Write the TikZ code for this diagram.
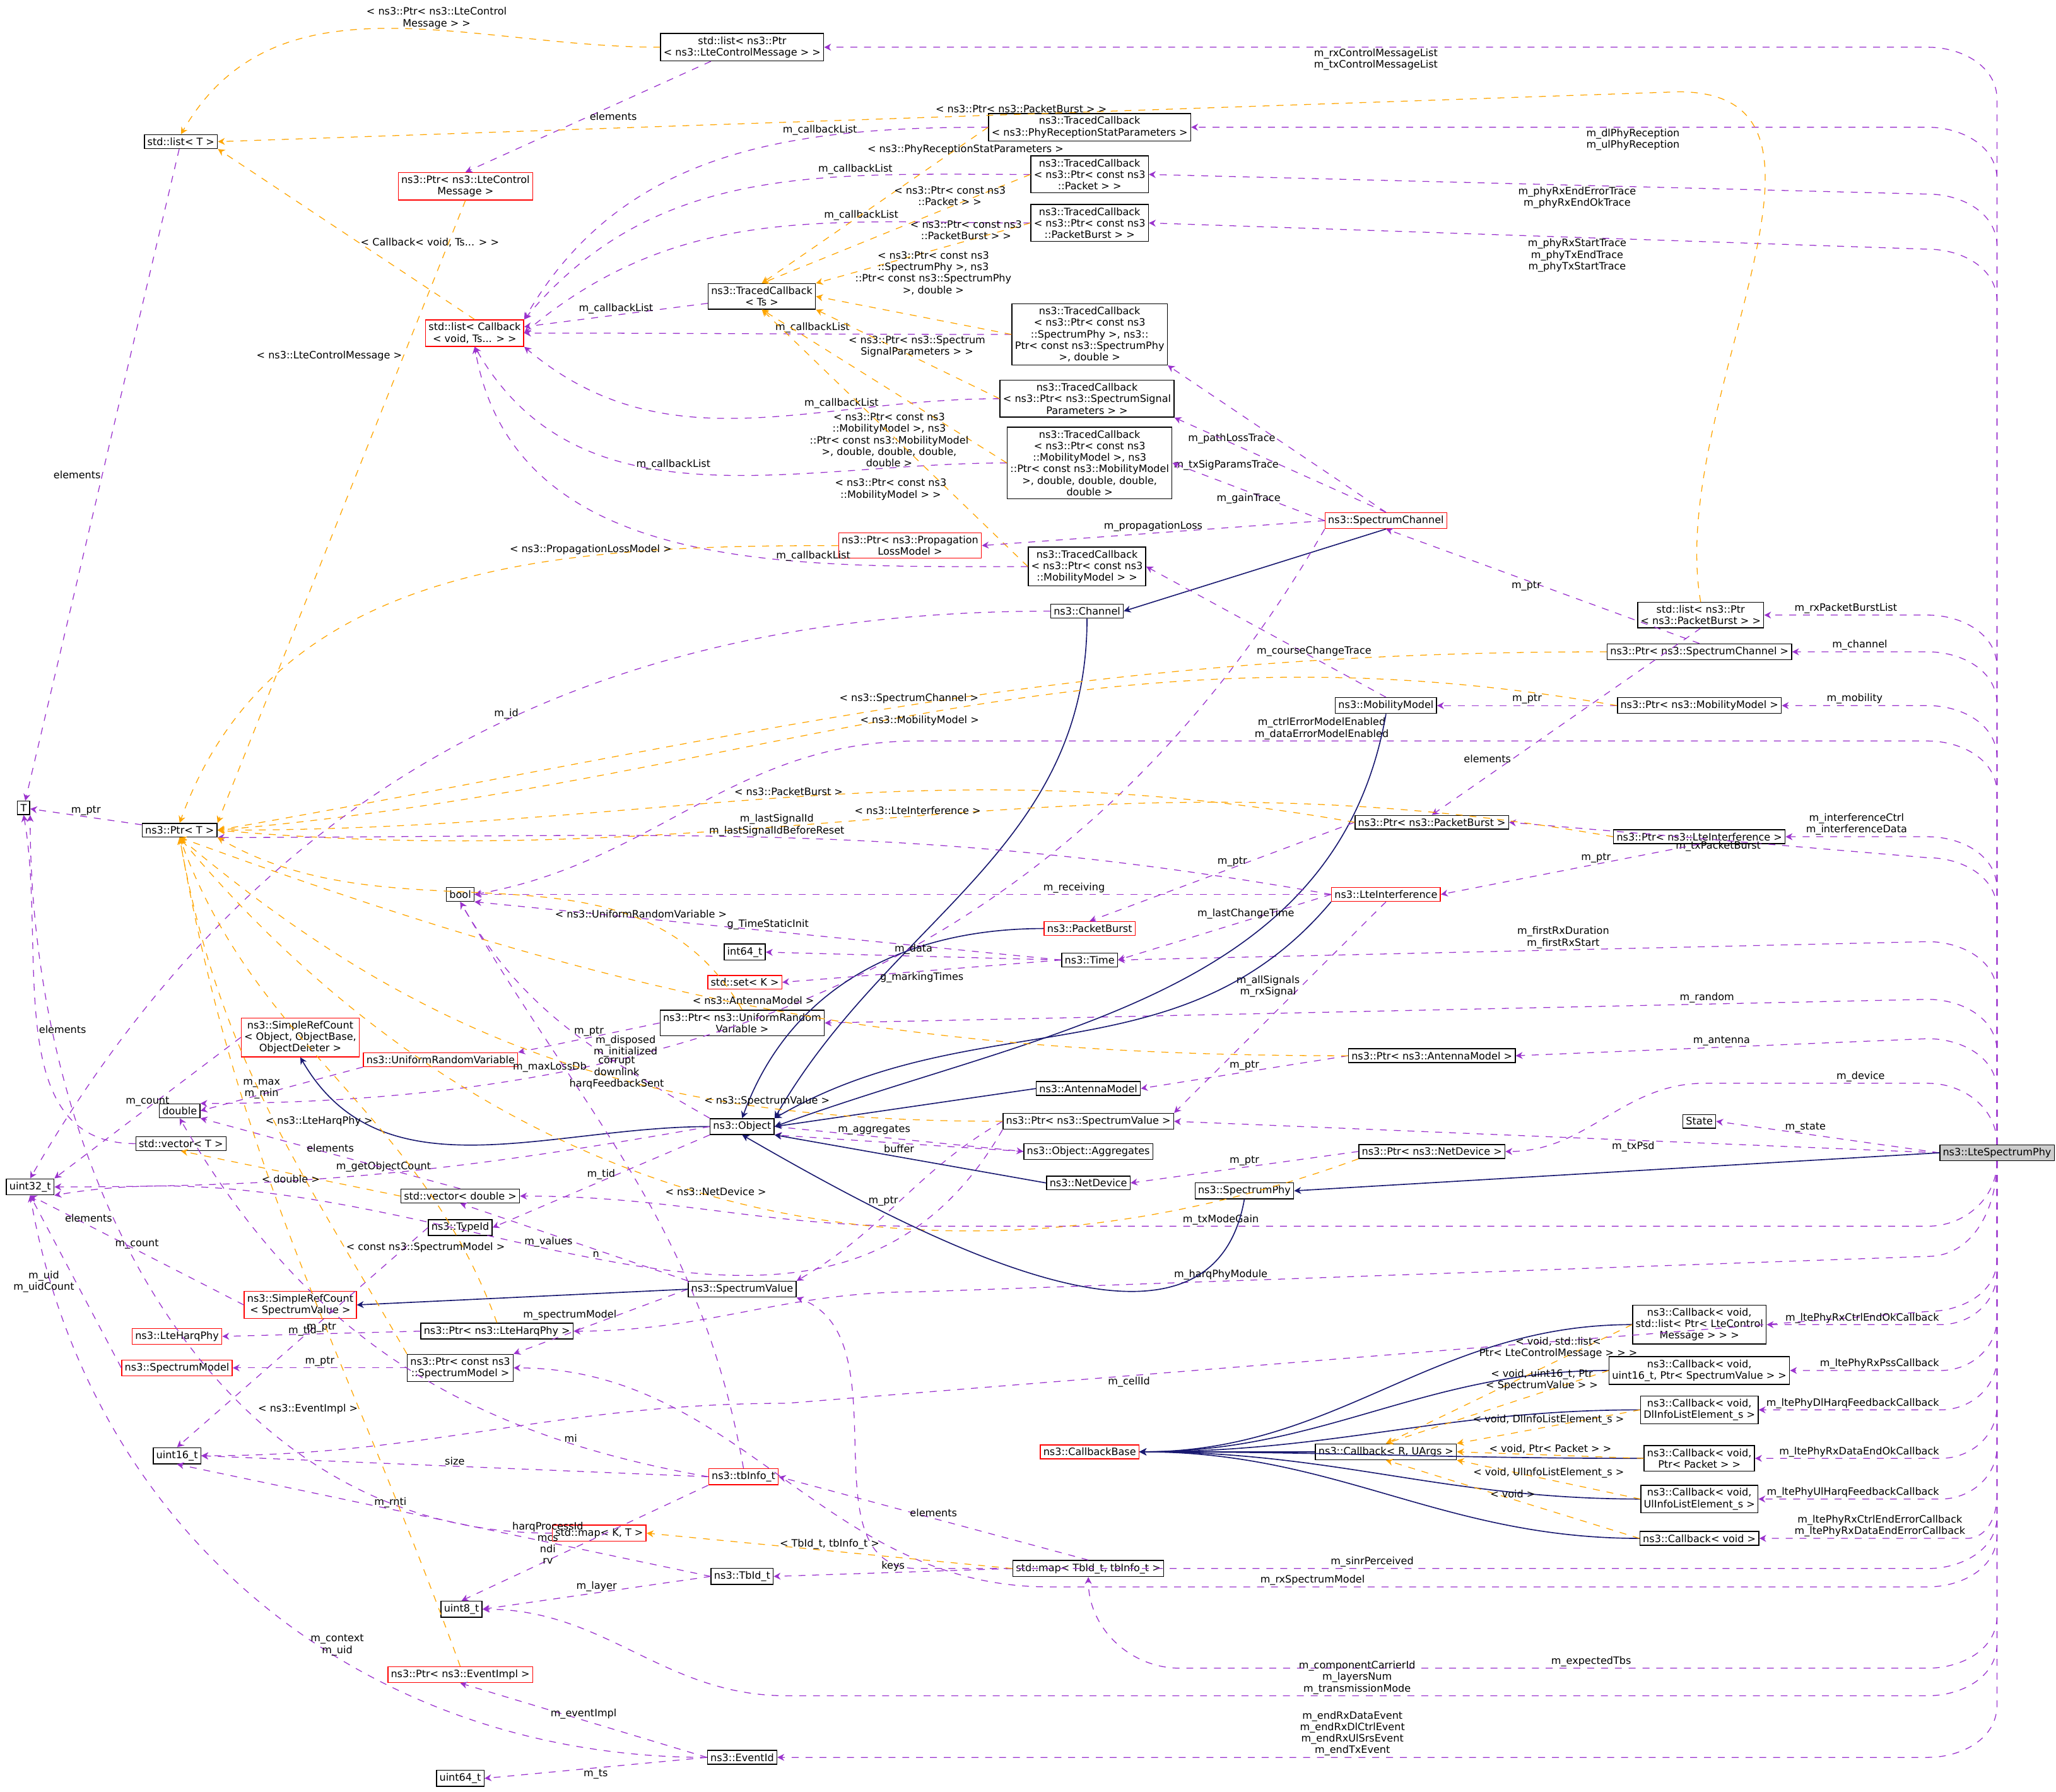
\documentclass[tikz,border=0pt]{standalone}
\usepackage{fontspec}
\setmainfont{DejaVu Sans}
\usetikzlibrary{arrows.meta}
\definecolor{usecol}{HTML}{9A32CD}
\definecolor{tplcol}{HTML}{FFA500}
\definecolor{inhcol}{HTML}{191970}
\tikzset{
  cls/.style={draw=black, fill=white, align=center, font=\fontsize{4.4}{5}\selectfont, inner sep=1.3pt, line width=0.4pt},
  redcls/.style={cls, draw=red},
  lbl/.style={font=\fontsize{4.4}{5}\selectfont, align=center, inner sep=0.5pt},
  use/.style={draw=usecol, dashed, -{Stealth[length=3pt,width=3pt]}, line width=0.35pt},
  tpl/.style={draw=tplcol, dashed, -{Stealth[length=3pt,width=3pt]}, line width=0.35pt},
  inh/.style={draw=inhcol, -{Stealth[length=3pt,width=3pt]}, line width=0.45pt}
}
\begin{document}
\begin{tikzpicture}[x=0.02cm, y=-0.02cm]
    \useasboundingbox (0,0) rectangle (1568,1366);

    % Classes
    \node[cls, fill=gray!40] (phy) at (1523,879) {ns3::LteSpectrumPhy};
    \node[cls] (state) at (1296,855) {State};
    \node[cls] (rxctrl) at (566,36) {std::list< ns3::Ptr\\< ns3::LteControlMessage > >};
    \node[cls] (listT) at (138,108) {std::list< T >};
    \node[redcls] (ptrctrl) at (355,142) {ns3::Ptr< ns3::LteControl\\Message >};
    \node[redcls] (listcb) at (362,254) {std::list< Callback\\< void, Ts... > >};
    \node[cls] (tcts) at (581,226) {ns3::TracedCallback\\< Ts >};
    \node[cls] (tcrecep) at (831,97) {ns3::TracedCallback\\< ns3::PhyReceptionStatParameters >};
    \node[cls] (tcpkt) at (831,133) {ns3::TracedCallback\\< ns3::Ptr< const ns3\\::Packet > >};
    \node[cls] (tcburst) at (831,170) {ns3::TracedCallback\\< ns3::Ptr< const ns3\\::PacketBurst > >};
    \node[cls] (tcspec) at (831,255) {ns3::TracedCallback\\< ns3::Ptr< const ns3\\::SpectrumPhy >, ns3::\\Ptr< const ns3::SpectrumPhy\\>, double >};
    \node[cls] (tcsig) at (829,304) {ns3::TracedCallback\\< ns3::Ptr< ns3::SpectrumSignal\\Parameters > >};
    \node[cls] (tcmobd) at (831,353) {ns3::TracedCallback\\< ns3::Ptr< const ns3\\::MobilityModel >, ns3\\::Ptr< const ns3::MobilityModel\\>, double, double, double,\\double >};
    \node[cls] (tcmob) at (829,432) {ns3::TracedCallback\\< ns3::Ptr< const ns3\\::MobilityModel > >};
    \node[redcls] (ptrprop) at (694,416) {ns3::Ptr< ns3::Propagation\\LossModel >};
    \node[redcls] (specchan) at (1057,397) {ns3::SpectrumChannel};
    \node[cls] (channel) at (829,466) {ns3::Channel};
    \node[cls] (listburst) at (1297,469) {std::list< ns3::Ptr\\< ns3::PacketBurst > >};
    \node[cls] (ptrchan) at (1296,497) {ns3::Ptr< ns3::SpectrumChannel >};
    \node[cls] (mobility) at (1057,538) {ns3::MobilityModel};
    \node[cls] (ptrmob) at (1296,538) {ns3::Ptr< ns3::MobilityModel >};
    \node[cls] (T) at (18,616) {T};
    \node[cls] (ptrT) at (137,633) {ns3::Ptr< T >};
    \node[cls] (ptrburst) at (1092,627) {ns3::Ptr< ns3::PacketBurst >};
    \node[cls] (ptrinterf) at (1296,638) {ns3::Ptr< ns3::LteInterference >};
    \node[cls] (bool) at (351,682) {bool};
    \node[redcls] (interf) at (1057,682) {ns3::LteInterference};
    \node[redcls] (pktburst) at (831,708) {ns3::PacketBurst};
    \node[cls] (int64) at (568,726) {int64\_t};
    \node[cls] (time) at (831,732) {ns3::Time};
    \node[redcls] (setK) at (568,749) {std::set< K >};
    \node[cls] (ptrrand) at (566,780) {ns3::Ptr< ns3::UniformRandom\\Variable >};
    \node[redcls] (refobj) at (229,791) {ns3::SimpleRefCount\\< Object, ObjectBase,\\ObjectDeleter >};
    \node[redcls] (unirand) at (336,808) {ns3::UniformRandomVariable};
    \node[cls] (ptrant) at (1092,805) {ns3::Ptr< ns3::AntennaModel >};
    \node[cls] (antenna) at (830,830) {ns3::AntennaModel};
    \node[cls] (double) at (137,847) {double};
    \node[cls] (object) at (566,859) {ns3::Object};
    \node[cls] (ptrsv) at (830,855) {ns3::Ptr< ns3::SpectrumValue >};
    \node[cls] (vecT) at (138,872) {std::vector< T >};
    \node[cls] (aggr) at (830,878) {ns3::Object::Aggregates};
    \node[cls] (ptrnetdev) at (1092,878) {ns3::Ptr< ns3::NetDevice >};
    \node[cls] (netdev) at (830,902) {ns3::NetDevice};
    \node[cls] (specphy) at (949,908) {ns3::SpectrumPhy};
    \node[cls] (uint32) at (23,905) {uint32\_t};
    \node[cls] (vecdouble) at (351,912) {std::vector< double >};
    \node[cls] (typeid) at (351,936) {ns3::TypeId};
    \node[cls] (specval) at (566,983) {ns3::SpectrumValue};
    \node[redcls] (refsv) at (229,995) {ns3::SimpleRefCount\\< SpectrumValue >};
    \node[cls] (ptrharq) at (379,1015) {ns3::Ptr< ns3::LteHarqPhy >};
    \node[redcls] (harq) at (135,1019) {ns3::LteHarqPhy};
    \node[redcls] (specmodel) at (135,1043) {ns3::SpectrumModel};
    \node[cls] (ptrspecmodel) at (351,1043) {ns3::Ptr< const ns3\\::SpectrumModel >};
    \node[redcls] (cbbase) at (831,1107) {ns3::CallbackBase};
    \node[cls] (cbR) at (1057,1107) {ns3::Callback< R, UArgs >};
    \node[cls] (cbctrl) at (1296,1010) {ns3::Callback< void,\\std::list< Ptr< LteControl\\Message > > >};
    \node[cls] (cbpss) at (1296,1045) {ns3::Callback< void,\\uint16\_t, Ptr< SpectrumValue > >};
    \node[cls] (cbdl) at (1296,1075) {ns3::Callback< void,\\DlInfoListElement\_s >};
    \node[cls] (cbpkt) at (1296,1112) {ns3::Callback< void,\\Ptr< Packet > >};
    \node[cls] (cbul) at (1296,1143) {ns3::Callback< void,\\UlInfoListElement\_s >};
    \node[cls] (cbvoid) at (1296,1173) {ns3::Callback< void >};
    \node[cls] (uint16) at (135,1110) {uint16\_t};
    \node[redcls] (tbinfo) at (567,1126) {ns3::tbInfo\_t};
    \node[redcls] (mapKT) at (457,1169) {std::map< K, T >};
    \node[cls] (tbid) at (566,1202) {ns3::TbId\_t};
    \node[cls] (maptb) at (830,1196) {std::map< TbId\_t, tbInfo\_t >};
    \node[cls] (uint8) at (352,1227) {uint8\_t};
    \node[redcls] (ptrevent) at (351,1277) {ns3::Ptr< ns3::EventImpl >};
    \node[cls] (eventid) at (566,1340) {ns3::EventId};
    \node[cls] (uint64) at (351,1356) {uint64\_t};

    % Members of LteSpectrumPhy, upwards
    \draw[use] (phy.north) -- (1523,76) to[out=90,in=0] (1470,36) -- node[lbl,below]{m\_rxControlMessageList\\m\_txControlMessageList} (rxctrl.east);
    \draw[use] (phy.north) -- (1523,137) to[out=90,in=0] (1470,97) -- node[lbl,pos=0.4,below]{m\_dlPhyReception\\m\_ulPhyReception} (tcrecep.east);
    \draw[use] (phy.north) -- (1523,188) to[out=90,in=0] (1470,148) -- node[lbl,pos=0.45,below]{m\_phyRxEndErrorTrace\\m\_phyRxEndOkTrace} (tcpkt.east);
    \draw[use] (phy.north) -- (1523,230) to[out=90,in=0] (1470,190) -- node[lbl,pos=0.45,below]{m\_phyRxStartTrace\\m\_phyTxEndTrace\\m\_phyTxStartTrace} (tcburst.east);
    \draw[use] (phy.north) -- (1523,509) to[out=90,in=0] (1470,469) -- node[lbl,above]{m\_rxPacketBurstList} (listburst.east);
    \draw[use] (phy.north) -- (1523,537) to[out=90,in=0] (1470,497) -- node[lbl,above]{m\_channel} (ptrchan.east);
    \draw[use] (phy.north) -- (1523,578) to[out=90,in=0] (1470,538) -- node[lbl,above]{m\_mobility} (ptrmob.east);
    \draw[use] (phy.north) -- (1523,605) to[out=90,in=0] (1470,565) -- node[lbl,pos=0.6,above]{m\_ctrlErrorModelEnabled\\m\_dataErrorModelEnabled} (700,565) to[out=180,in=10] (bool.east);
    \draw[use] (phy.north) -- (1523,678) to[out=90,in=0] (1470,638) -- node[lbl,above]{m\_interferenceCtrl\\m\_interferenceData} (ptrinterf.east);
    \draw[use] (phy.north) -- (1523,694) to[out=90,in=0] (1470,654) -- node[lbl,pos=0.5,below]{m\_txPacketBurst} (ptrburst.east);
    \draw[use] (phy.north) -- (1523,758) to[out=90,in=0] (1470,718) -- node[lbl,pos=0.45,above]{m\_firstRxDuration\\m\_firstRxStart} (time.east);
    \draw[use] (phy.north) -- (1523,802) to[out=90,in=0] (1470,762) -- node[lbl,pos=0.2,above]{m\_random} (ptrrand.east);
    \draw[use] (phy.north) -- (1523,832) to[out=90,in=0] (1470,792) -- node[lbl,pos=0.5,above]{m\_antenna} (ptrant.east);
    \draw[use] (phy.north) to[out=90,in=0] (1470,826) -- node[lbl,pos=0.3,above]{m\_device} (1300,826) to[out=180,in=0] (ptrnetdev.east);
    \draw[use] (phy.west) to node[lbl,pos=0.6,above]{m\_state} (state.east);
    \draw[use] (phy.west) to node[lbl,pos=0.4,below]{m\_txPsd} (ptrsv.east);
    \draw[inh] (phy.west) to (specphy.east);

    % Members of LteSpectrumPhy, downwards
    \draw[use] (phy.south) to[out=-90,in=0] (1470,935) -- node[lbl,pos=0.7,above]{m\_txModeGain} (700,935) to[out=180,in=0] (vecdouble.east);
    \draw[use] (phy.south) to[out=-90,in=0] (1470,958) -- node[lbl,pos=0.7,above]{m\_harqPhyModule} (700,985) to[out=180,in=0] (ptrharq.east);
    \draw[use] (phy.south) -- (1523,960) to[out=-90,in=0] (1470,1000) -- node[lbl,pos=0.7,below]{m\_cellId} (600,1070) to[out=180,in=0] (uint16.east);
    \draw[use] (phy.south) -- (1523,970) to[out=-90,in=0] (1480,1010) node[lbl,above left]{m\_ltePhyRxCtrlEndOkCallback} -- (cbctrl.east);
    \draw[use] (phy.south) -- (1523,1005) to[out=-90,in=0] (1480,1045) node[lbl,above left]{m\_ltePhyRxPssCallback} -- (cbpss.east);
    \draw[use] (phy.south) -- (1523,1035) to[out=-90,in=0] (1480,1075) node[lbl,above left]{m\_ltePhyDlHarqFeedbackCallback} -- (cbdl.east);
    \draw[use] (phy.south) -- (1523,1072) to[out=-90,in=0] (1480,1112) node[lbl,above left]{m\_ltePhyRxDataEndOkCallback} -- (cbpkt.east);
    \draw[use] (phy.south) -- (1523,1103) to[out=-90,in=0] (1480,1143) node[lbl,above left]{m\_ltePhyUlHarqFeedbackCallback} -- (cbul.east);
    \draw[use] (phy.south) -- (1523,1140) to[out=-90,in=0] (1500,1173) node[lbl,above left]{m\_ltePhyRxCtrlEndErrorCallback\\m\_ltePhyRxDataEndErrorCallback} -- (cbvoid.east);
    \draw[use] (phy.south) -- (1523,1156) to[out=-90,in=0] (1470,1196) -- node[lbl,pos=0.55,above]{m\_sinrPerceived} (700,1196) to[out=180,in=-20] (specval.south east);
    \draw[use] (phy.south) -- (1523,1170) to[out=-90,in=0] (1470,1210) -- node[lbl,pos=0.7,above]{m\_rxSpectrumModel} (800,1210) to[out=180,in=0] (ptrspecmodel.east);
    \draw[use] (phy.south) -- (1523,1232) to[out=-90,in=0] (1470,1272) -- node[lbl,pos=0.45,above]{m\_expectedTbs} (900,1272) to[out=180,in=-90] (maptb.south);
    \draw[use] (phy.south) -- (1523,1253) to[out=-90,in=0] (1470,1293) -- node[lbl,pos=0.5,above]{m\_componentCarrierId\\m\_layersNum\\m\_transmissionMode} (600,1293) to[out=180,in=0] (uint8.east);
    \draw[use] (phy.south) -- (1523,1300) to[out=-90,in=0] (1470,1340) -- node[lbl,pos=0.5,above]{m\_endRxDataEvent\\m\_endRxDlCtrlEvent\\m\_endRxUlSrsEvent\\m\_endTxEvent} (eventid.east);

    % Lists and traced callbacks
    \draw[use] (listT) to node[lbl,left]{elements} (T);
    \draw[use] (rxctrl) to node[lbl,right]{elements} (ptrctrl.north);
    \draw[tpl] (rxctrl.west) to[out=180,in=60] node[lbl,pos=0.4,above]{< ns3::Ptr< ns3::LteControl\\Message > >} (listT.north);
    \draw[tpl] (listburst.north) to[out=100,in=0] (1280,70) -- node[lbl,pos=0.45,above]{< ns3::Ptr< ns3::PacketBurst > >} (listT.east);
    \draw[tpl] (listcb.north) to node[lbl,pos=0.45,right]{< Callback< void, Ts... > >} (listT.south east);
    \draw[tpl] (ptrctrl.south) to node[lbl,pos=0.25,left]{< ns3::LteControlMessage >} (ptrT.north east);
    \draw[use] (tcrecep.west) to[out=180,in=60] node[lbl,pos=0.3,above]{m\_callbackList} (listcb.north east);
    \draw[use] (tcpkt.west) to[out=180,in=50] node[lbl,pos=0.3,above]{m\_callbackList} (listcb.north east);
    \draw[use] (tcburst.west) to[out=180,in=40] node[lbl,pos=0.3,above]{m\_callbackList} (listcb.east);
    \draw[use] (tcspec.west) to[out=180,in=0] node[lbl,pos=0.4,above]{m\_callbackList} (listcb.east);
    \draw[use] (tcsig.west) to[out=180,in=-40] node[lbl,pos=0.3,above]{m\_callbackList} (listcb.south east);
    \draw[use] (tcmobd.west) to[out=180,in=-60] node[lbl,pos=0.55,above]{m\_callbackList} (listcb.south);
    \draw[use] (tcmob.west) to[out=180,in=-80] node[lbl,pos=0.3,above]{m\_callbackList} (listcb.south);
    \draw[use] (tcts) to node[lbl,above]{m\_callbackList} (listcb);
    \draw[tpl] (tcrecep.west) to node[lbl,pos=0.1,below]{< ns3::PhyReceptionStatParameters >} (tcts.north);
    \draw[tpl] (tcpkt.west) to node[lbl,pos=0.3,above]{< ns3::Ptr< const ns3\\::Packet > >} (tcts.north);
    \draw[tpl] (tcburst.west) to node[lbl,pos=0.3,above]{< ns3::Ptr< const ns3\\::PacketBurst > >} (tcts.north east);
    \draw[tpl] (tcspec.west) to node[lbl,pos=0.4,above,yshift=10pt]{< ns3::Ptr< const ns3\\::SpectrumPhy >, ns3\\::Ptr< const ns3::SpectrumPhy\\>, double >} (tcts.east);
    \draw[tpl] (tcsig.west) to node[lbl,pos=0.45,above]{< ns3::Ptr< ns3::Spectrum\\SignalParameters > >} (tcts.south east);
    \draw[tpl] (tcmobd.west) to node[lbl,pos=0.15,left]{< ns3::Ptr< const ns3\\::MobilityModel >, ns3\\::Ptr< const ns3::MobilityModel\\>, double, double, double,\\double >} (tcts.south);
    \draw[tpl] (tcmob.west) to node[lbl,pos=0.3,left]{< ns3::Ptr< const ns3\\::MobilityModel > >} (tcts.south);

    % Channels and mobility
    \draw[tpl] (ptrprop.west) to[out=180,in=70] node[lbl,pos=0.3,above]{< ns3::PropagationLossModel >} (ptrT.north);
    \draw[inh] (specchan.south) to (channel.east);
    \draw[inh] (channel.south) to[out=-90,in=60] (object.north east);
    \draw[use] (specchan.north) to node[lbl,pos=0.5,left]{m\_pathLossTrace} (tcspec.south east);
    \draw[use] (specchan.north) to node[lbl,pos=0.5,left]{m\_txSigParamsTrace} (tcsig.south east);
    \draw[use] (specchan.west) to node[lbl,pos=0.5,below]{m\_gainTrace} (tcmobd.east);
    \draw[use] (specchan.west) to node[lbl,pos=0.5,above]{m\_propagationLoss} (ptrprop.east);
    \draw[use] (specchan.south west) to[out=-120,in=0] node[lbl,pos=0.75,above]{m\_maxLossDb} (double.north east);
    \draw[use] (mobility.north) to node[lbl,pos=0.3,above]{m\_courseChangeTrace} (tcmob.east);
    \draw[inh] (mobility.south) to[out=-100,in=20] (object.east);
    \draw[use] (ptrchan.north) to node[lbl,pos=0.5,left]{m\_ptr} (specchan.south);
    \draw[tpl] (ptrchan.west) to[out=180,in=10] node[lbl,pos=0.5,above]{< ns3::SpectrumChannel >} (ptrT.east);
    \draw[use] (ptrmob.west) to node[lbl,above]{m\_ptr} (mobility.east);
    \draw[tpl] (ptrmob.west) to[out=170,in=5] node[lbl,pos=0.5,below]{< ns3::MobilityModel >} (ptrT.east);
    \draw[use] (listburst.south) to node[lbl,pos=0.7,left]{elements} (ptrburst.north);
    \draw[use] (ptrburst.west) to node[lbl,pos=0.4,left]{m\_ptr} (pktburst.north);
    \draw[tpl] (ptrburst.west) to[out=170,in=0] node[lbl,pos=0.5,above]{< ns3::PacketBurst >} (ptrT.east);
    \draw[use] (ptrinterf.south) to node[lbl,pos=0.4,above]{m\_ptr} (interf.east);
    \draw[tpl] (ptrinterf.west) to[out=170,in=-5] node[lbl,pos=0.5,above]{< ns3::LteInterference >} (ptrT.east);
    \draw[use] (ptrT) to node[lbl,above]{m\_ptr} (T);
    \draw[use] (channel.west) to[out=180,in=60] node[lbl,pos=0.45,above]{m\_id} (uint32.north);

    % Interference, packets, time
    \draw[use] (interf.west) to node[lbl,pos=0.3,above]{m\_receiving} (bool.east);
    \draw[use] (interf.west) to[out=170,in=0] node[lbl,pos=0.5,above]{m\_lastSignalId\\m\_lastSignalIdBeforeReset} (ptrT.south east);
    \draw[use] (interf.south) to node[lbl,pos=0.4,left]{m\_allSignals\\m\_rxSignal} (ptrsv.north east);
    \draw[use] (interf.west) to node[lbl,pos=0.4,above]{m\_lastChangeTime} (time.east);
    \draw[inh] (interf.south west) to[out=-130,in=30] (object.north east);
    \draw[inh] (pktburst.west) to[out=180,in=70] (object.north);
    \draw[use] (time.west) to node[lbl,pos=0.5,above]{g\_TimeStaticInit} (bool.south east);
    \draw[use] (time.west) to node[lbl,above]{m\_data} (int64.east);
    \draw[use] (time.west) to node[lbl,below]{g\_markingTimes} (setK.east);
    \draw[use] (ptrrand.west) to node[lbl,above]{m\_ptr} (unirand.north east);
    \draw[tpl] (ptrrand.north) to[out=120,in=-30] node[lbl,pos=0.25,above]{< ns3::UniformRandomVariable >} (ptrT.south east);
    \draw[use] (unirand.south west) to node[lbl,left]{m\_max\\m\_min} (double.east);
    \draw[inh] (object.west) to[out=180,in=-60] (refobj.south);
    \draw[use] (object.north west) to[out=150,in=-60] node[lbl,pos=0.4,right]{m\_disposed\\m\_initialized} (bool.south);
    \draw[use] (object.east) to node[lbl,pos=0.4,above]{m\_aggregates} (aggr.west);
    \draw[use] (aggr.west) to node[lbl,pos=0.5,below]{buffer} (object.south east);
    \draw[use] (object.south west) to node[lbl,pos=0.5,above]{m\_tid} (typeid.east);
    \draw[use] (object.west) to[out=190,in=0] node[lbl,pos=0.5,above]{m\_getObjectCount} (uint32.east);
    \draw[use] (typeid.west) to node[lbl,pos=0.5,above]{m\_tid} (uint16.north);
    \draw[use] (ptrant.west) to node[lbl,above]{m\_ptr} (antenna.east);
    \draw[tpl] (ptrant.west) to[out=180,in=-20] node[lbl,pos=0.5,above]{< ns3::AntennaModel >} (ptrT.south);
    \draw[inh] (antenna.west) to (object.east);
    \draw[use] (ptrsv.west) to[out=-150,in=30] node[lbl,pos=0.5,left]{m\_ptr} (specval.north east);
    \draw[tpl] (ptrsv.west) to[out=180,in=-40] node[lbl,pos=0.25,above]{< ns3::SpectrumValue >} (ptrT.south);
    \draw[use] (ptrsv.south west) to[out=-120,in=10] node[lbl,pos=0.5,above]{n} (uint32.south east);
    \draw[use] (ptrnetdev.west) to node[lbl,above]{m\_ptr} (netdev.east);
    \draw[tpl] (ptrnetdev.south west) to[out=-160,in=-50] node[lbl,pos=0.5,above]{< ns3::NetDevice >} (ptrT.south);
    \draw[inh] (netdev.west) to (object.south east);
    \draw[inh] (specphy.south) to[out=-100,in=-30] (object.south);

    % Spectrum values and models
    \draw[use] (vecdouble.north) to node[lbl,above]{elements} (double.south east);
    \draw[tpl] (vecdouble.west) to node[lbl,pos=0.5,below]{< double >} (vecT.south);
    \draw[use] (vecT.west) to[out=180,in=-80] node[lbl,pos=0.5,right]{elements} (T.south);
    \draw[use] (specval.north west) to node[lbl,pos=0.5,left]{m\_values} (vecdouble.south);
    \draw[use] (specval.west) to node[lbl,pos=0.4,left]{m\_spectrumModel} (ptrspecmodel.north east);
    \draw[inh] (specval.west) to (refsv.east);
    \draw[use] (refsv.west) to node[lbl,above]{m\_count} (uint32.south);
    \draw[use] (refobj.west) to node[lbl,above]{m\_count} (uint32.north east);
    \draw[use] (ptrharq.west) to node[lbl,above]{m\_ptr} (harq.east);
    \draw[tpl] (ptrharq.north) to[out=110,in=-70] node[lbl,pos=0.4,left]{< ns3::LteHarqPhy >} (ptrT.south);
    \draw[use] (ptrspecmodel.west) to node[lbl,above]{m\_ptr} (specmodel.east);
    \draw[tpl] (ptrspecmodel.north west) to[out=120,in=-80] node[lbl,pos=0.2,right]{< const ns3::SpectrumModel >} (ptrT.south);
    \draw[use] (specmodel.west) to node[lbl,left]{m\_uid\\m\_uidCount} (uint32.south);

    % Callbacks
    \foreach \cb in {cbctrl,cbpss,cbdl,cbpkt,cbul,cbvoid}
      \draw[inh] (\cb.west) to[out=180,in=0] (cbbase.east);
    \draw[inh] (cbR.west) to (cbbase.east);
    \draw[tpl] (cbctrl.west) to node[lbl,pos=0.3,above]{< void, std::list<\\Ptr< LteControlMessage > > >} (cbR.north);
    \draw[tpl] (cbpss.west) to node[lbl,pos=0.3,above]{< void, uint16\_t, Ptr\\< SpectrumValue > >} (cbR.north);
    \draw[tpl] (cbdl.west) to node[lbl,pos=0.5,above]{< void, DlInfoListElement\_s >} (cbR.north east);
    \draw[tpl] (cbpkt.west) to node[lbl,pos=0.5,above]{< void, Ptr< Packet > >} (cbR.east);
    \draw[tpl] (cbul.west) to node[lbl,pos=0.5,above]{< void, UlInfoListElement\_s >} (cbR.south east);
    \draw[tpl] (cbvoid.west) to node[lbl,pos=0.5,above]{< void >} (cbR.south);

    % Transport blocks and events
    \draw[use] (tbinfo.west) to node[lbl,above]{size} (uint16.east);
    \draw[use] (tbinfo.north) to[out=100,in=-60] node[lbl,pos=0.7,right]{corrupt\\downlink\\harqFeedbackSent} (bool.south);
    \draw[use] (tbinfo.south west) to node[lbl,pos=0.5,left]{harqProcessId\\mcs\\ndi\\rv} (uint8.north);
    \draw[use] (tbinfo.west) to[out=170,in=-60] node[lbl,pos=0.2,above]{mi} (double.south);
    \draw[use] (mapKT.west) to[out=180,in=-90] node[lbl,pos=0.6,left]{elements} (T.south east);
    \draw[use] (maptb.north) to node[lbl,pos=0.5,above]{elements} (tbinfo.east);
    \draw[use] (maptb.west) to node[lbl,above]{keys} (tbid.east);
    \draw[tpl] (maptb.west) to node[lbl,pos=0.5,above]{< TbId\_t, tbInfo\_t >} (mapKT.east);
    \draw[use] (tbid.west) to node[lbl,pos=0.6,above]{m\_rnti} (uint16.south);
    \draw[use] (tbid.west) to node[lbl,above]{m\_layer} (uint8.east);
    \draw[tpl] (ptrevent.north) to[out=110,in=-80] node[lbl,pos=0.3,left]{< ns3::EventImpl >} (ptrT.south);
    \draw[use] (eventid.west) to node[lbl,above]{m\_eventImpl} (ptrevent.south);
    \draw[use] (eventid.west) to[out=180,in=-80] node[lbl,pos=0.4,above]{m\_context\\m\_uid} (uint32.south);
    \draw[use] (eventid.west) to node[lbl,below]{m\_ts} (uint64.east);
\end{tikzpicture}
\end{document}
